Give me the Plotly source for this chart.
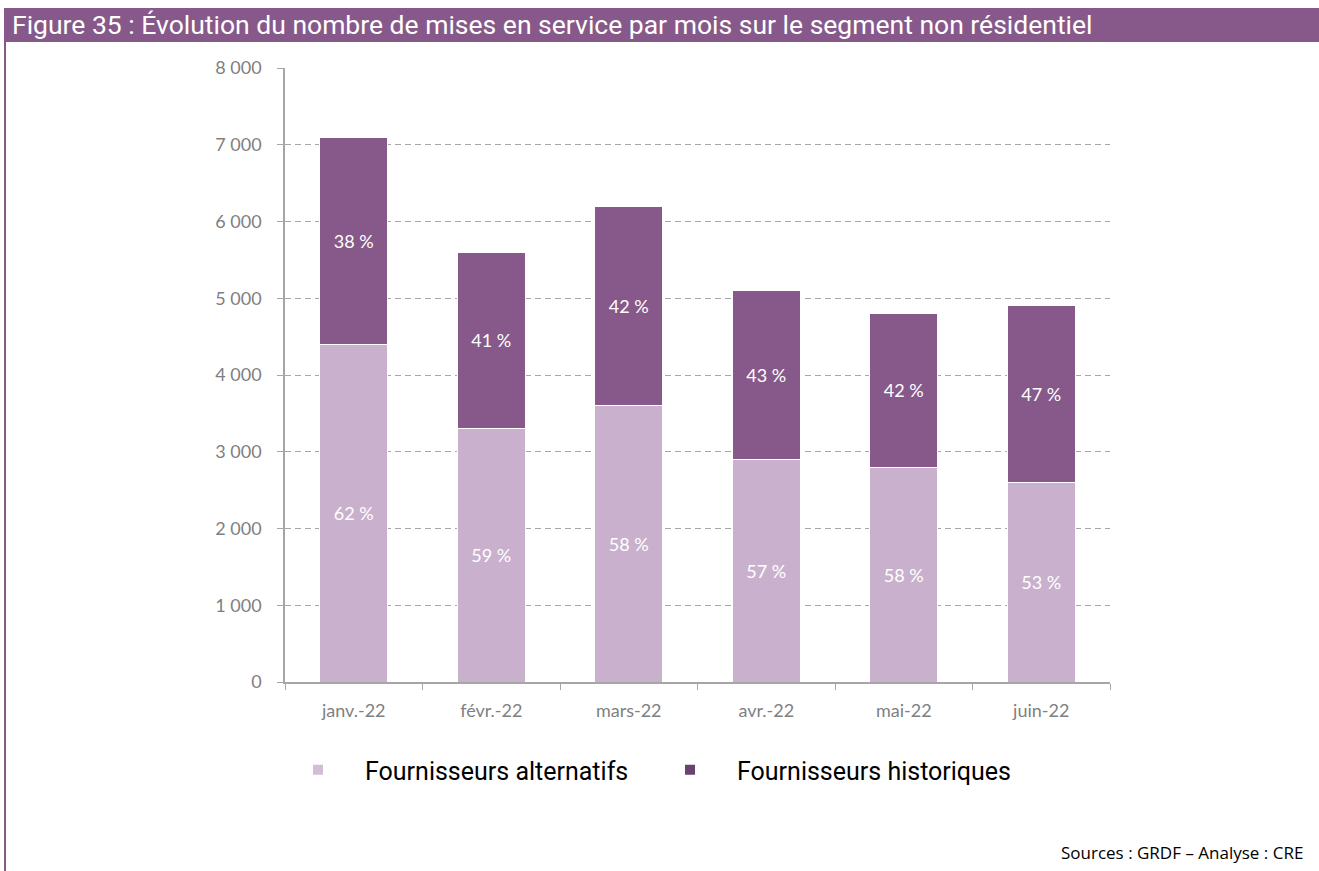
import plotly.graph_objects as go

# Mises en service par mois, segment non résidentiel
mois = ["janv.-22", "févr.-22", "mars-22", "avr.-22", "mai-22", "juin-22"]
alternatifs = [4400, 3300, 3600, 2900, 2800, 2600]
historiques = [2700, 2300, 2600, 2200, 2000, 2300]
y_ticks = [0, 1000, 2000, 3000, 4000, 5000, 6000, 7000, 8000]

totaux = [a + h for a, h in zip(alternatifs, historiques)]
pct_alt = [f"{round(a / t * 100)} %" for a, t in zip(alternatifs, totaux)]
pct_hist = [f"{round(h / t * 100)} %" for h, t in zip(historiques, totaux)]

C_ALT = "#C9B1CD"
C_HIST = "#87598A"
C_ALT_LEG = "#D3BCD6"
C_HIST_LEG = "#6B4170"
GRID = "#A6A6A6"
BODY = "Lato, Open Sans, sans-serif"
NARROW = "Liberation Sans Narrow, Arial Narrow, Roboto, sans-serif"
TICK_FONT = dict(family=BODY, size=18, color="#7F7F7F")
PCT_FONT = dict(family=BODY, size=18, color="white")

# Repères en pixels de la zone de tracé
L, R, T, B = 285, 209, 68, 189
PW, PH = 1319 - L - R, 871 - T - B


def px_x(p):
    return (p - L) / PW


def px_y(p):
    return (871 - B - p) / PH


fig = go.Figure()

fig.add_trace(go.Bar(
    x=mois, y=alternatifs, name="Fournisseurs alternatifs",
    marker=dict(color=C_ALT, line=dict(color="white", width=1)),
    text=pct_alt, textposition="inside", insidetextanchor="middle",
    textfont=PCT_FONT, constraintext="none", showlegend=False,
))
fig.add_trace(go.Bar(
    x=mois, y=historiques, name="Fournisseurs historiques",
    marker=dict(color=C_HIST, line=dict(color="white", width=1)),
    text=pct_hist, textposition="inside", insidetextanchor="middle",
    textfont=PCT_FONT, constraintext="none", showlegend=False,
))

# Légende : un carré de couleur par série, chacune dans sa propre boîte
for nom, col, leg in [("Fournisseurs alternatifs", C_ALT_LEG, "legend"),
                      ("Fournisseurs historiques", C_HIST_LEG, "legend2")]:
    fig.add_trace(go.Scatter(
        x=[None], y=[None], mode="markers", name=nom, legend=leg,
        marker=dict(symbol="square", size=10, color=col),
    ))

leg_common = dict(
    orientation="h", yanchor="middle", xanchor="left", y=px_y(770),
    font=dict(family=NARROW, size=25, color="#000000"),
    itemwidth=84, bgcolor="rgba(0,0,0,0)", borderwidth=0,
)

fig.update_layout(
    width=1319, height=871,
    margin=dict(l=L, r=R, t=T, b=B),
    paper_bgcolor="white", plot_bgcolor="white",
    barmode="stack", bargap=0.505,
    separators=", ",
    legend=dict(x=px_x(271), **leg_common),
    legend2=dict(x=px_x(643), **leg_common),
    xaxis=dict(
        type="category", showline=True, linecolor=GRID, linewidth=1.5,
        ticks="outside", tickson="boundaries", ticklen=6, tickcolor=GRID,
        tickfont=TICK_FONT, showgrid=False, ticklabelstandoff=12,
    ),
    yaxis=dict(
        range=[0, 8000], tickvals=y_ticks, tickformat=",d",
        showline=True, linecolor=GRID, linewidth=1.5,
        ticks="outside", ticklen=6, tickcolor=GRID,
        tickfont=TICK_FONT,
        showgrid=True, gridcolor=GRID, griddash="6px,4px", gridwidth=1,
        zeroline=False, ticklabelstandoff=12,
    ),
    shapes=[
        # bandeau de titre
        dict(type="rect", xref="paper", yref="paper",
             x0=px_x(4), x1=px_x(1319), y0=px_y(42), y1=px_y(8),
             fillcolor=C_HIST, line=dict(width=0), layer="above"),
        # filet vertical à gauche
        dict(type="line", xref="paper", yref="paper",
             x0=px_x(5), x1=px_x(5), y0=px_y(42), y1=px_y(871),
             line=dict(color=C_HIST, width=2)),
    ],
    annotations=[
        dict(text="Figure 35 : Évolution du nombre de mises en service par mois sur le segment non résidentiel",
             xref="paper", yref="paper", x=px_x(10), y=px_y(25),
             xanchor="left", yanchor="middle", showarrow=False,
             font=dict(family=NARROW, size=26.5, color="white")),
        dict(text="Sources : GRDF – Analyse : CRE",
             xref="paper", yref="paper", x=px_x(1305), y=px_y(852),
             xanchor="right", yanchor="middle", showarrow=False,
             font=dict(family="Open Sans, sans-serif", size=17, color="#000000")),
    ],
)

fig.write_html("out.html")
